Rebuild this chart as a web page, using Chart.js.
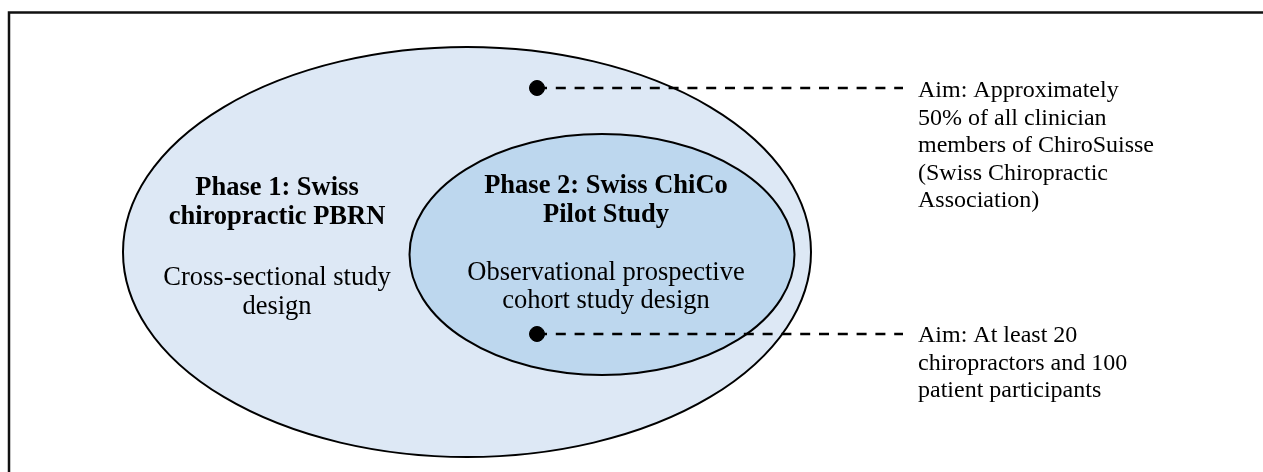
<!DOCTYPE html>
<html>
<head>
<meta charset="utf-8">
<script src="https://cdn.jsdelivr.net/npm/chart.js@4"></script>
<style>
  html, body { margin: 0; padding: 0; background: #fff; }
  .canvas-container { width: 1263px; height: 472px; }
</style>
</head>
<body>
<div class="canvas-container">
  <canvas id="diagram"></canvas>
</div>
<script>
// phase circles (title lines, design lines)
const phaseNames = ["Phase 1", "Phase 2"];
const phaseTitles = [
  ["Phase 1: Swiss", "chiropractic PBRN"],
  ["Phase 2: Swiss ChiCo", "Pilot Study"]
];
const phaseDesigns = [
  ["Cross-sectional study", "design"],
  ["Observational prospective", "cohort study design"]
];
// aims (right-hand notes)
const aimTexts = [
  ["Aim: Approximately", "50% of all clinician", "members of ChiroSuisse", "(Swiss Chiropractic", "Association)"],
  ["Aim: At least 20", "chiropractors and 100", "patient participants"]
];
// marker anchors, in diagram units (x 0..1263, y 0..472 top-down)
const markerX = [537, 537];
const markerY = [88, 334];
const leaderEndX = [903, 903];

// geometry + styles kept apart from the data above
const ellipses = [
  { cx: 467, cy: 252, rx: 344, ry: 205, fill: "#dde8f5" },
  { cx: 602, cy: 254.5, rx: 192.5, ry: 120.5, fill: "#bdd7ee" }
];
const titleLayout = [
  { x: 277, y: [195, 224], designY: [285, 314] },
  { x: 606, y: [193, 222], designY: [280, 308] }
];
const aimLayout = { x: 918, y0: [97, 342], step: 27.6 };

const diagramPlugin = {
  id: "diagram",
  beforeDatasetsDraw(chart) {
    const { ctx, scales: { x, y } } = chart;
    ctx.save();
    // frame
    ctx.strokeStyle = "#111";
    ctx.lineWidth = 2.5;
    ctx.beginPath();
    ctx.moveTo(x.getPixelForValue(9), y.getPixelForValue(472));
    ctx.lineTo(x.getPixelForValue(9), y.getPixelForValue(12.5));
    ctx.lineTo(x.getPixelForValue(1263), y.getPixelForValue(12.5));
    ctx.stroke();
    // ellipses
    ellipses.forEach(e => {
      const cx = x.getPixelForValue(e.cx), cy = y.getPixelForValue(e.cy);
      const rx = Math.abs(x.getPixelForValue(e.cx + e.rx) - cx);
      const ry = Math.abs(y.getPixelForValue(e.cy + e.ry) - cy);
      ctx.beginPath();
      ctx.ellipse(cx, cy, rx, ry, 0, 0, Math.PI * 2);
      ctx.fillStyle = e.fill;
      ctx.fill();
      ctx.lineWidth = 2;
      ctx.strokeStyle = "#000";
      ctx.stroke();
    });
    // phase texts
    ctx.fillStyle = "#000";
    ctx.textAlign = "center";
    ctx.textBaseline = "alphabetic";
    phaseNames.forEach((n, i) => {
      const L = titleLayout[i];
      ctx.font = "bold 26.5px 'Liberation Serif', 'Times New Roman', serif";
      phaseTitles[i].forEach((t, j) =>
        ctx.fillText(t, x.getPixelForValue(L.x), y.getPixelForValue(L.y[j])));
      ctx.font = "26.5px 'Liberation Serif', 'Times New Roman', serif";
      phaseDesigns[i].forEach((t, j) =>
        ctx.fillText(t, x.getPixelForValue(L.x), y.getPixelForValue(L.designY[j])));
    });
    // aim notes
    ctx.textAlign = "left";
    ctx.font = "24px 'Liberation Serif', 'Times New Roman', serif";
    aimTexts.forEach((lines, i) => {
      lines.forEach((t, j) =>
        ctx.fillText(t, x.getPixelForValue(aimLayout.x),
          y.getPixelForValue(aimLayout.y0[i] + j * aimLayout.step)));
    });
    ctx.restore();
  }
};

const leaderSets = markerX.map((mx, i) => ({
  type: "line",
  label: "leader " + (i + 1),
  data: [{ x: mx, y: markerY[i] }, { x: leaderEndX[i], y: markerY[i] }],
  borderColor: "#000",
  borderWidth: 2.5,
  borderDash: [10, 8.8],
  pointRadius: 0,
  fill: false
}));

new Chart(document.getElementById("diagram"), {
  type: "scatter",
  data: {
    datasets: [
      ...leaderSets,
      {
        label: "markers",
        data: markerX.map((mx, i) => ({ x: mx, y: markerY[i] })),
        backgroundColor: "#000",
        borderColor: "#000",
        pointRadius: 7.5,
        pointHoverRadius: 7.5
      }
    ]
  },
  options: {
    responsive: true,
    maintainAspectRatio: false,
    animation: false,
    events: [],
    layout: { padding: 0, autoPadding: false },
    plugins: { legend: { display: false }, tooltip: { enabled: false } },
    scales: {
      x: { type: "linear", min: 0, max: 1263, display: false },
      y: { type: "linear", min: 0, max: 472, reverse: true, display: false }
    }
  },
  plugins: [diagramPlugin]
});
</script>
</body>
</html>
